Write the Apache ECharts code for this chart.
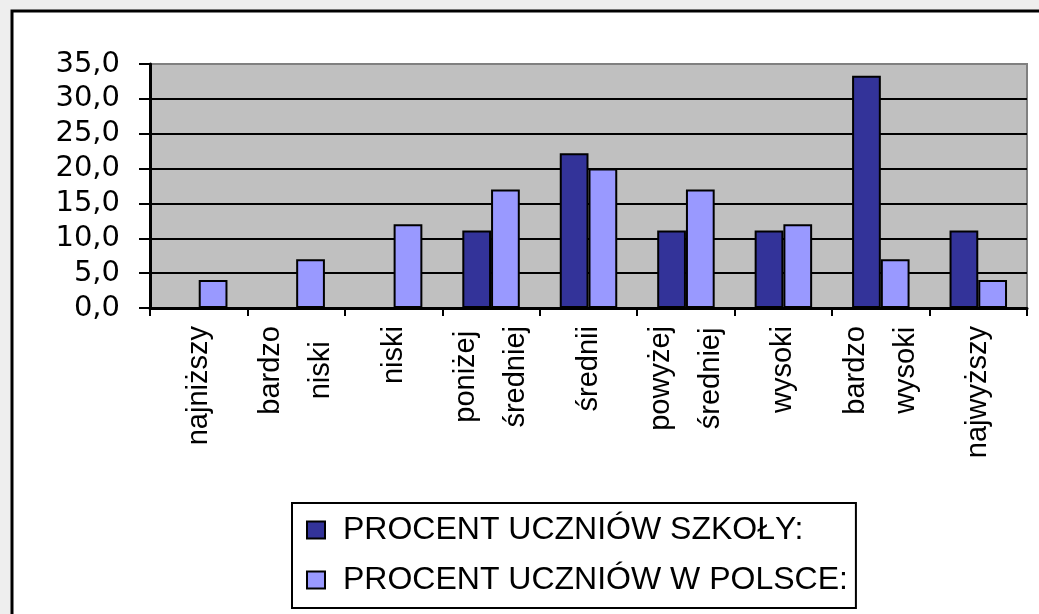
<!DOCTYPE html>
<html>
<head>
<meta charset="utf-8">
<script src="https://cdn.jsdelivr.net/npm/echarts@6/dist/echarts.min.js"></script>
<style>
  html, body { margin: 0; padding: 0; background: #eeeeee; }
  #chart { width: 1039px; height: 614px; }
</style>
</head>
<body>
<div id="chart"></div>
<script>
// categories (stanine levels)
const categories = ['najniższy', 'bardzo niski', 'niski', 'poniżej średniej', 'średnii',
  'powyżej średniej', 'wysoki', 'bardzo wysoki', 'najwyższy'];

// percentages
const schoolValues = [0, 0, 0, 11.1, 22.2, 11.1, 11.1, 33.3, 11.1];
const polandValues = [4, 7, 12, 17, 20, 17, 12, 7, 4];

const seriesNames = ['PROCENT UCZNIÓW SZKOŁY:', 'PROCENT UCZNIÓW W POLSCE:'];

const yMin = 0;
const yMax = 35;
const yStep = 5;

const chart = echarts.init(document.getElementById('chart'));

const option = {
  animation: false,
  backgroundColor: '#eeeeee',
  graphic: [
    {
      type: 'rect',
      z: -10,
      shape: { x: 12, y: 11, width: 1100, height: 700 },
      style: { fill: '#ffffff', stroke: '#000000', lineWidth: 3 }
    }
  ],
  grid: {
    left: 150,
    right: 12,
    top: 64,
    bottom: 306,
    show: true,
    backgroundColor: '#c0c0c0',
    borderColor: '#808080',
    borderWidth: 2,
    outerBoundsMode: 'none'
  },
  legend: {
    orient: 'vertical',
    left: 292,
    top: 503,
    padding: [11, 8, 12, 14],
    itemGap: 18,
    itemWidth: 18,
    itemHeight: 17,
    borderColor: '#000000',
    borderWidth: 2,
    backgroundColor: '#ffffff',
    icon: 'rect',
    itemStyle: { borderColor: '#000000', borderWidth: 2 },
    textStyle: {
      fontFamily: 'Liberation Sans',
      fontSize: 32,
      color: '#000000',
      lineHeight: 32,
      padding: [0, 0, 0, 13]
    },
    data: seriesNames
  },
  xAxis: {
    type: 'category',
    data: categories,
    axisLine: { lineStyle: { color: '#000000', width: 3 } },
    axisTick: { show: true, length: 8, lineStyle: { color: '#000000', width: 2 } },
    axisLabel: {
      rotate: 90,
      margin: 18,
      interval: 0,
      formatter: v => v.split(' ').map(s => '{c|' + s + '}').join('\n'),
      rich: {
        c: {
          align: 'center',
          fontFamily: 'Liberation Sans',
          fontSize: 29,
          lineHeight: 50,
          color: '#000000'
        }
      }
    }
  },
  yAxis: {
    type: 'value',
    min: yMin,
    max: yMax,
    interval: yStep,
    axisLine: { show: true, lineStyle: { color: '#000000', width: 3 } },
    axisTick: { show: true, length: 11, lineStyle: { color: '#000000', width: 2 } },
    axisLabel: {
      margin: 30,
      fontFamily: 'DejaVu Sans',
      fontSize: 29,
      color: '#000000',
      formatter: v => v.toFixed(1).replace('.', ',')
    },
    splitLine: { show: true, showMaxLine: false, lineStyle: { color: '#000000', width: 2 } }
  },
  series: [
    {
      name: seriesNames[0],
      type: 'bar',
      data: schoolValues,
      barGap: '0%',
      barCategoryGap: '41%',
      itemStyle: { color: '#333399', borderColor: '#000000', borderWidth: 2 }
    },
    {
      name: seriesNames[1],
      type: 'bar',
      data: polandValues,
      barGap: '0%',
      barCategoryGap: '41%',
      itemStyle: { color: '#9999ff', borderColor: '#000000', borderWidth: 2 }
    }
  ]
};

chart.setOption(option);
</script>
</body>
</html>
